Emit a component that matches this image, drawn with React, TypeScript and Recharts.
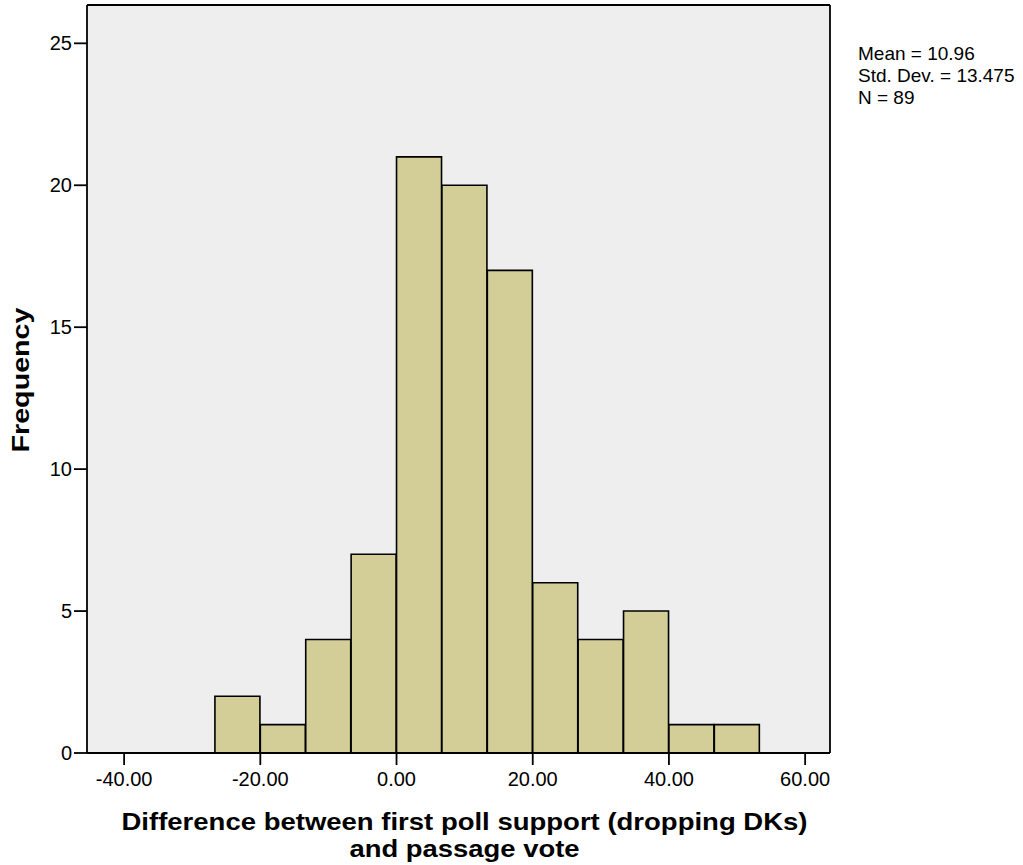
import React from 'react';
import { ComposedChart, Bar, XAxis, YAxis, CartesianGrid } from 'recharts';

const binCenters = [-23.333, -16.667, -10, -3.333, 3.333, 10, 16.667, 23.333, 30, 36.667, 43.333, 50];
const frequencies = [2, 1, 4, 7, 21, 20, 17, 6, 4, 5, 1, 1];
const xTicks = [-40, -20, 0, 20, 40, 60];
const yTicks = [0, 5, 10, 15, 20, 25];
const statsLines = ['Mean = 10.96', 'Std. Dev. = 13.475', 'N = 89'];
const xTitleLines = ['Difference between first poll support (dropping DKs)', 'and passage vote'];
const yTitle = 'Frequency';

const data = binCenters.map((x, i) => ({ x, count: frequencies[i] }));

const FONT = 'Arial, "Liberation Sans", sans-serif';

const XTitle = (props: any) => {
  const vb = props.viewBox || {};
  const cx = vb.x + vb.width / 2 + 6;
  const y0 = vb.y + 77;
  return (
    <g fontFamily={FONT} fontWeight="bold" fontSize={24.5} fill="#000">
      <text x={cx} y={y0} textAnchor="middle" textLength={686} lengthAdjust="spacingAndGlyphs">
        {xTitleLines[0]}
      </text>
      <text x={cx} y={y0 + 27} textAnchor="middle" textLength={230} lengthAdjust="spacingAndGlyphs">
        {xTitleLines[1]}
      </text>
    </g>
  );
};

const YTitle = (props: any) => {
  const vb = props.viewBox || {};
  const cy = vb.y + vb.height / 2 + 1;
  const x = 29;
  return (
    <text
      x={x}
      y={cy}
      transform={`rotate(-90 ${x} ${cy})`}
      textAnchor="middle"
      fontFamily={FONT}
      fontWeight="bold"
      fontSize={24}
      fill="#000"
      textLength={145}
      lengthAdjust="spacingAndGlyphs"
    >
      {yTitle}
    </text>
  );
};

export default function App() {
  return (
    <div style={{ position: 'absolute', left: 0, top: 0, width: 1023, height: 865, background: '#fff' }}>
      <ComposedChart
        width={1023}
        height={865}
        data={data}
        margin={{ top: 4, right: 192, bottom: 52, left: 0 }}
        barCategoryGap={0}
        barGap={0}
      >
        <CartesianGrid fill="#EEEEEE" horizontal={false} vertical={false} />
        <XAxis
          dataKey="x"
          type="number"
          domain={[-45.45, 63.65]}
          ticks={xTicks}
          allowDataOverflow
          tickFormatter={(v: number) => v.toFixed(2)}
          height={60}
          tickSize={12}
          tickMargin={7}
          axisLine={{ stroke: '#000', strokeWidth: 1.8 }}
          tickLine={{ stroke: '#000', strokeWidth: 1.8 }}
          tick={{ fill: '#000', fontSize: 20, fontFamily: FONT }}
          label={<XTitle />}
        />
        <XAxis
          xAxisId="top"
          orientation="top"
          dataKey="x"
          type="number"
          domain={[-45.45, 63.65]}
          height={1}
          tick={false}
          tickLine={false}
          axisLine={{ stroke: '#000', strokeWidth: 1.8 }}
        />
        <YAxis
          type="number"
          domain={[0, 26.35]}
          ticks={yTicks}
          allowDataOverflow
          width={87}
          tickSize={13}
          tickMargin={2}
          axisLine={{ stroke: '#000', strokeWidth: 1.8 }}
          tickLine={{ stroke: '#000', strokeWidth: 1.8 }}
          tick={{ fill: '#000', fontSize: 20, fontFamily: FONT }}
          label={<YTitle />}
        />
        <YAxis
          yAxisId="right"
          orientation="right"
          type="number"
          domain={[0, 26.35]}
          width={1}
          tick={false}
          tickLine={false}
          axisLine={{ stroke: '#000', strokeWidth: 1.8 }}
        />
        <Bar
          dataKey="count"
          fill="#D3CE97"
          stroke="#000"
          strokeWidth={1.6}
          isAnimationActive={false}
        />
      </ComposedChart>
      <div
        style={{
          position: 'absolute',
          left: 858,
          top: 43,
          fontFamily: FONT,
          fontSize: 19,
          lineHeight: '22px',
          color: '#000',
          whiteSpace: 'nowrap',
        }}
      >
        {statsLines.map((s) => (
          <div key={s}>{s}</div>
        ))}
      </div>
    </div>
  );
}
